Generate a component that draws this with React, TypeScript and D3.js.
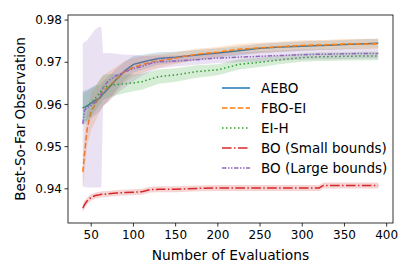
import * as d3 from 'd3';

// evaluation counts where values were read
const evals = [40, 42, 45, 50, 55, 60, 62, 64, 70, 80, 90, 100, 110, 120, 130, 150, 175, 200, 225, 250, 275, 300, 320, 325, 350, 375, 390];

const aeboMean = [.9592, .9593, .9596, .9603, .9610, .9615, .9620, .9625, .9637, .9660, .9680, .9695, .9700, .9705, .9709, .9712, .9717, .9722, .9727, .9733, .9736, .9738, .9740, .9740, .9742, .9744, .9745];
const aeboLo = [.9552, .9553, .9557, .9566, .9575, .9583, .9590, .9595, .9609, .9635, .9658, .9675, .9682, .9689, .9694, .9699, .9705, .9711, .9716, .9722, .9725, .9727, .9729, .9729, .9731, .9733, .9734];
const aeboHi = [.9632, .9633, .9635, .9640, .9645, .9647, .9650, .9655, .9665, .9685, .9702, .9715, .9718, .9721, .9724, .9725, .9729, .9733, .9738, .9744, .9747, .9749, .9751, .9751, .9753, .9755, .9756];

const fboMean = [.9440, .9480, .9540, .9585, .9600, .9620, .9626, .9632, .9642, .9660, .9678, .9688, .9694, .9700, .9703, .9710, .9719, .9724, .9731, .9734, .9737, .9740, .9741, .9741, .9743, .9743, .9744];
const fboLo = [.9400, .9440, .9500, .9540, .9560, .9582, .9589, .9596, .9607, .9630, .9653, .9666, .9674, .9682, .9687, .9696, .9706, .9712, .9719, .9722, .9725, .9728, .9729, .9729, .9731, .9731, .9732];
const fboHi = [.9480, .9520, .9580, .9630, .9640, .9658, .9663, .9668, .9677, .9690, .9703, .9710, .9714, .9718, .9719, .9724, .9732, .9736, .9743, .9746, .9749, .9752, .9753, .9753, .9755, .9755, .9756];

const eihMean = [.9592, .9594, .9597, .9605, .9615, .9628, .9634, .9640, .9644, .9647, .9649, .9651, .9654, .9660, .9666, .9670, .9678, .9682, .9695, .9700, .9706, .9711, .9713, .9713, .9714, .9715, .9715];
const eihLo = [.9557, .9559, .9562, .9572, .9585, .9598, .9604, .9611, .9616, .9622, .9627, .9631, .9635, .9642, .9649, .9654, .9663, .9669, .9683, .9689, .9696, .9701, .9703, .9703, .9704, .9705, .9705];
const eihHi = [.9627, .9629, .9632, .9638, .9645, .9658, .9664, .9669, .9672, .9672, .9671, .9671, .9673, .9678, .9683, .9686, .9693, .9695, .9707, .9711, .9716, .9721, .9723, .9723, .9724, .9725, .9725];

const boSmallMean = [.9354, .9362, .9371, .9380, .9384, .9386, .9387, .9387, .9388, .9390, .9391, .9392, .9393, .9398, .9399, .9399, .9401, .9402, .9402, .9402, .9402, .9402, .9402, .9408, .9408, .9408, .9408];
const boSmallLo = [.9345, .9353, .9363, .9372, .9377, .9379, .9380, .9380, .9381, .9383, .9384, .9385, .9386, .9391, .9392, .9392, .9394, .9395, .9395, .9395, .9395, .9395, .9395, .9401, .9401, .9401, .9401];
const boSmallHi = [.9363, .9371, .9379, .9388, .9391, .9393, .9394, .9394, .9395, .9397, .9398, .9399, .9400, .9405, .9406, .9406, .9408, .9409, .9409, .9409, .9409, .9409, .9409, .9415, .9415, .9415, .9415];

const boLargeMean = [.9554, .9586, .9592, .9598, .9605, .9617, .9628, .9640, .9655, .9669, .9677, .9685, .9690, .9697, .9701, .9703, .9706, .9710, .9712, .9714, .9716, .9718, .9719, .9719, .9720, .9721, .9721];
const boLargeLo = [.9405, .9405, .9403, .9403, .9403, .9403, .9403, .9598, .9605, .9625, .9640, .9655, .9668, .9678, .9685, .9690, .9694, .9698, .9700, .9702, .9704, .9706, .9707, .9707, .9708, .9709, .9709];
const boLargeHi = [.9745, .9748, .9752, .9765, .9778, .9785, .9782, .9722, .9722, .9720, .9718, .9718, .9715, .9715, .9716, .9716, .9718, .9722, .9724, .9726, .9728, .9730, .9731, .9731, .9732, .9733, .9733];

const xTicks = [50, 100, 150, 200, 250, 300, 350, 400];
const yTicks = [0.94, 0.95, 0.96, 0.97, 0.98];

const series = [
  { name: 'AEBO', mean: aeboMean, lo: aeboLo, hi: aeboHi, color: '#1f77b4', dash: '' },
  { name: 'FBO-EI', mean: fboMean, lo: fboLo, hi: fboHi, color: '#ff7f0e', dash: '5.5,2.4' },
  { name: 'EI-H', mean: eihMean, lo: eihLo, hi: eihHi, color: '#2ca02c', dash: '1.5,2.5' },
  { name: 'BO (Small bounds)', mean: boSmallMean, lo: boSmallLo, hi: boSmallHi, color: '#d62728', dash: '9.6,2.4,1.5,2.4' },
  { name: 'BO (Large bounds)', mean: boLargeMean, lo: boLargeLo, hi: boLargeHi, color: '#9467bd', dash: '4.5,1.5,1.5,1.5,1.5,1.5' },
];

const W = 415, H = 269;
const left = 68, right = 393, top = 15, bottom = 223;
const font = 'DejaVu Sans, sans-serif';

export default function App() {
  const x = d3.scaleLinear().domain([22.5, 407.5]).range([left, right]);
  const y = d3.scaleLinear().domain([0.9319, 0.9812]).range([bottom, top]);

  const line = d3.line<number>().x((d, i) => x(evals[i])).y(d => y(d));

  return (
    <svg width={W} height={H} style={{ position: 'absolute', left: 0, top: 0, background: '#fff' }} fontFamily={font}>
      <defs>
        <clipPath id="plot"><rect x={left} y={top} width={right - left} height={bottom - top} /></clipPath>
      </defs>
      <g clipPath="url(#plot)">
        {series.map(s => {
          const area = d3.area<number>()
            .x((d, i) => x(evals[i]))
            .y0((d, i) => y(s.lo[i]))
            .y1((d, i) => y(s.hi[i]));
          return (
            <g key={s.name}>
              <path d={area(s.mean) || ''} fill={s.color} fillOpacity={0.2} />
              <path d={line(s.mean) || ''} fill="none" stroke={s.color} strokeWidth={1.5} strokeDasharray={s.dash} />
            </g>
          );
        })}
      </g>
      <rect x={left} y={top} width={right - left} height={bottom - top} fill="none" stroke="#000" strokeWidth={0.8} />
      {xTicks.map(t => (
        <g key={t} transform={`translate(${x(t)},${bottom})`}>
          <line y2={3.5} stroke="#000" strokeWidth={0.8} />
          <text y={16} textAnchor="middle" fontSize={12}>{t}</text>
        </g>
      ))}
      {yTicks.map(t => (
        <g key={t} transform={`translate(${left},${y(t)})`}>
          <line x2={-3.5} stroke="#000" strokeWidth={0.8} />
          <text x={-6} dy="0.35em" textAnchor="end" fontSize={12}>{t.toFixed(2)}</text>
        </g>
      ))}
      <text x={(left + right) / 2} y={260} textAnchor="middle" fontSize={13.8}>Number of Evaluations</text>
      <text transform={`translate(25,${(top + bottom) / 2}) rotate(-90)`} textAnchor="middle" fontSize={13.5}>Best-So-Far Observation</text>
      {series.map((s, i) => (
        <g key={s.name} transform={`translate(222,${88 + i * 20})`}>
          <line x2={28} stroke={s.color} strokeWidth={1.5} strokeDasharray={s.dash} />
          <text x={39} dy="0.35em" fontSize={13.5}>{s.name}</text>
        </g>
      ))}
    </svg>
  );
}
